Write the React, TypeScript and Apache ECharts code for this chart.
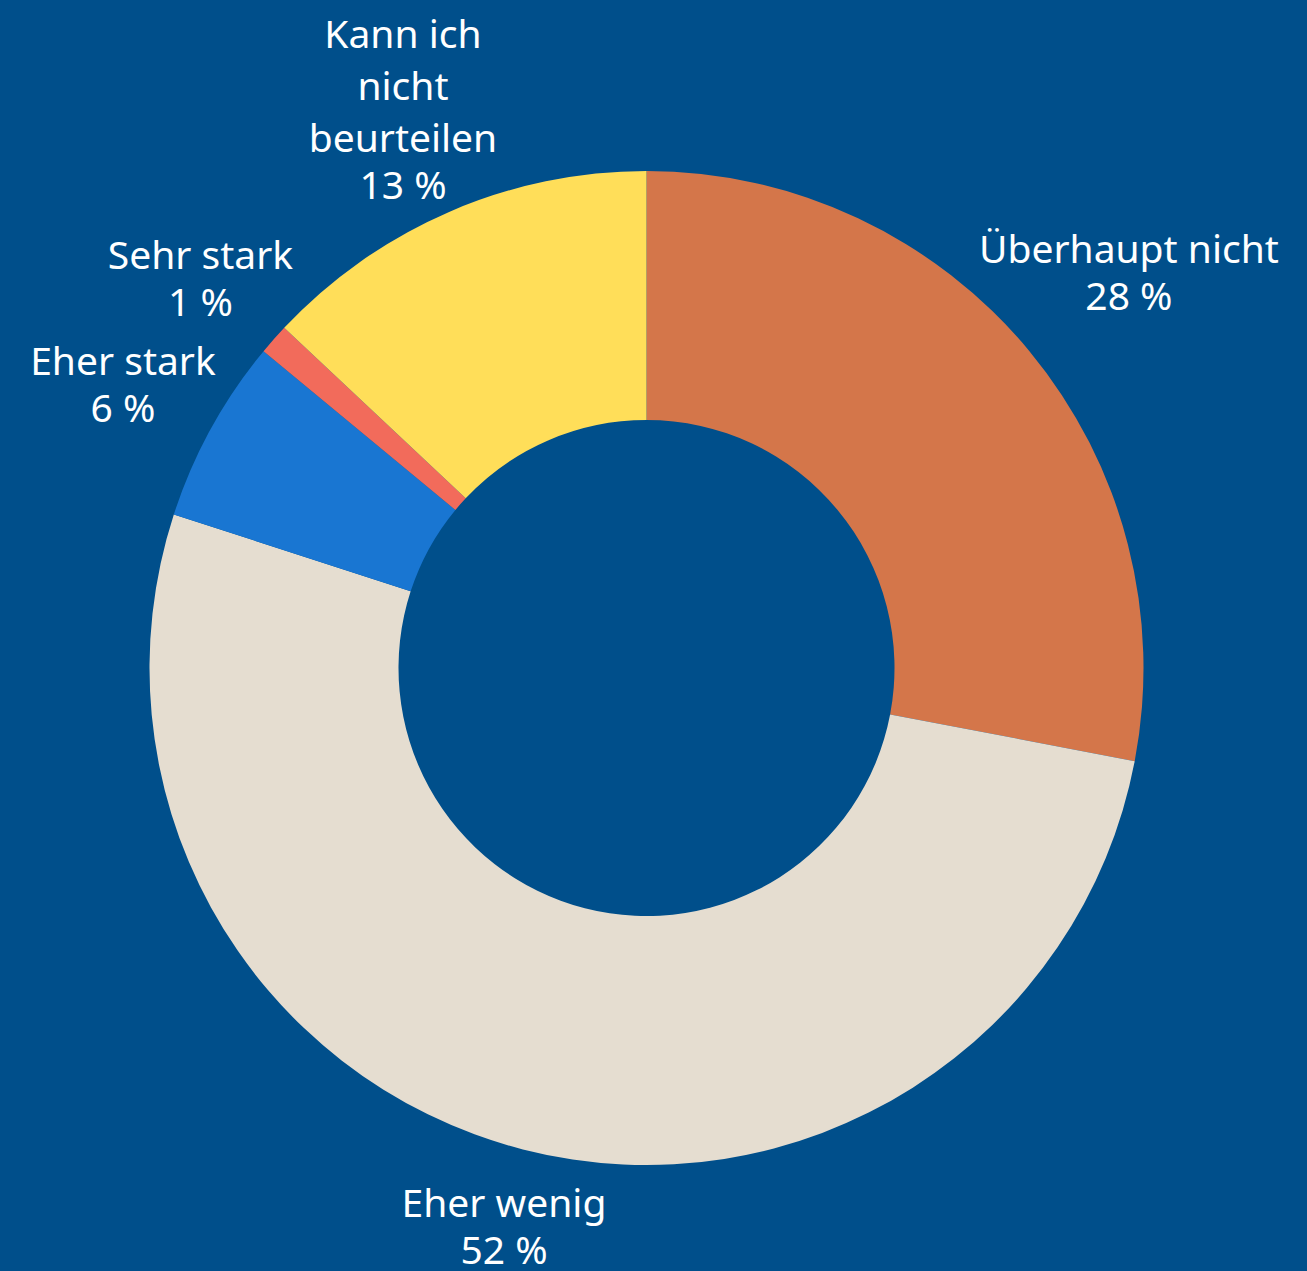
import React, { useEffect, useRef } from "react";
import * as echarts from "echarts";

const categories = [
  "Überhaupt nicht",
  "Eher wenig",
  "Eher stark",
  "Sehr stark",
  "Kann ich\nnicht\nbeurteilen",
];
const values = [28, 52, 6, 1, 13];
const colors = ["#D4764A", "#E5DDD0", "#1976D2", "#F26B5B", "#FFDE59"];

const BG = "#004F8B";
const CX = 646.5;
const CY = 668;
const R_IN = 248;
const R_OUT = 497;

export default function App() {
  const ref = useRef<HTMLDivElement>(null);
  useEffect(() => {
    const chart = echarts.init(ref.current!, null, { renderer: "svg" });
    const total = values.reduce((a, b) => a + b, 0);
    const cum: number[] = [];
    let acc = 0;
    values.forEach((v) => {
      cum.push(acc + v / 2);
      acc += v;
    });
    chart.setOption({
      animation: false,
      backgroundColor: BG,
      series: [
        {
          type: "pie",
          center: [CX, CY],
          radius: [R_IN, R_OUT],
          startAngle: 90,
          clockwise: true,
          avoidLabelOverlap: false,
          itemStyle: { borderWidth: 0 },
          label: {
            show: true,
            position: "outside",
            formatter: (p: any) => `{n|${p.name}}\n{v|${p.value} %}`,
            rich: {
              n: {
                fontFamily: "Noto Sans",
                fontSize: 39,
                lineHeight: 52,
                color: "#ffffff",
                align: "center",
              },
              v: {
                fontFamily: "Noto Sans",
                fontSize: 39,
                lineHeight: 42,
                color: "#ffffff",
                align: "center",
              },
            },
          },
          labelLine: { show: false },
          labelLayout: (params: any) => {
            const i = params.dataIndex;
            const ang = (cum[i] / total) * Math.PI * 2;
            const s = Math.sin(ang);
            const c = Math.cos(ang);
            const w = params.labelRect.width;
            const h = params.labelRect.height;
            const proj = Math.abs(s) * (w / 2) + Math.abs(c) * (h / 2);
            const d = R_OUT + 29 + 0.7 * proj;
            return {
              x: CX + d * s,
              y: CY - d * c,
              align: "center",
              verticalAlign: "middle",
            };
          },
          data: categories.map((name, i) => ({
            name,
            value: values[i],
            itemStyle: { color: colors[i] },
          })),
        },
      ],
    });
    return () => chart.dispose();
  }, []);
  return (
    <div
      ref={ref}
      style={{ position: "absolute", left: 0, top: 0, width: 1307, height: 1271 }}
    />
  );
}
